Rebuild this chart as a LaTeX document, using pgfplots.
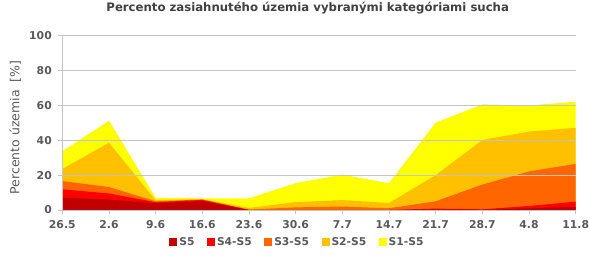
\documentclass[border=0pt]{standalone}
\usepackage{fontspec}
\setmainfont{DejaVu Sans}
\usepackage{pgfplots}
\pgfplotsset{compat=1.18}
\definecolor{cS5}{HTML}{C00000}
\definecolor{cS4}{HTML}{FF0000}
\definecolor{cS3}{HTML}{FF6600}
\definecolor{cS2}{HTML}{FFC000}
\definecolor{cS1}{HTML}{FFFF00}
\definecolor{txt}{HTML}{595959}
\definecolor{ttl}{HTML}{404040}
\definecolor{grd}{HTML}{C4C4C4}
\begin{document}
\begin{tikzpicture}
\path[use as bounding box] (-62.3pt,-48pt) rectangle (527.7pt,210pt);
\begin{axis}[
  at={(0pt,0pt)}, anchor=south west,
  scale only axis, width=513.4pt, height=174.3pt,
  xmin=0, xmax=11, ymin=0, ymax=100,
  xtick={0,...,11},
  xticklabels={26.5,2.6,9.6,16.6,23.6,30.6,7.7,14.7,21.7,28.7,4.8,11.8},
  ytick={0,20,40,60,80,100},
  ymajorgrids, grid style={grd, line width=0.7pt},
  axis on top,
  axis x line*=bottom, axis y line*=left,
  axis line style={-, grd, line width=0.8pt},
  tick align=outside, major tick length=4pt, tick style={grd, line width=0.7pt},
  ticklabel style={font=\bfseries\fontsize{10.8}{13}\selectfont, text=txt},
  xticklabel style={yshift=-3pt},
  yticklabel style={xshift=-3pt},
  /pgf/number format/assume math mode=true,
  every axis y label/.style={at={(axis description cs:-0.0915,0.473)}, rotate=90, anchor=center, font=\fontsize{12.5}{15}\selectfont, text=txt},
  ylabel={Percento územia\ \ [\%]},
  title={Percento zasiahnutého územia vybranými kategóriami sucha},
  title style={at={(0.478,1.124)}, anchor=center, font=\bfseries\fontsize{11.7}{14}\selectfont, text=ttl},
  legend columns=5, reverse legend,
  legend style={at={(0.458,-0.1836)}, anchor=center, draw=none, fill=none,
    font=\bfseries\fontsize{10.7}{13}\selectfont, text=txt,
    /tikz/every even column/.append style={column sep=10.5pt}},
  legend image code/.code={\fill[#1] (0pt,-4pt) rectangle (8pt,4pt);},
]
\addplot[fill=cS1, draw=none] coordinates {(0,33.6) (1,51.2) (2,7.0) (3,6.7) (4,6.7) (5,15.4) (6,20.3) (7,15.3) (8,50.1) (9,60.6) (10,60.0) (11,62.1)} \closedcycle;
\addplot[fill=cS2, draw=none] coordinates {(0,23.5) (1,38.6) (2,5.6) (3,6.2) (4,1.2) (5,4.5) (6,5.7) (7,4.0) (8,20.0) (9,40.2) (10,45.0) (11,47.2)} \closedcycle;
\addplot[fill=cS3, draw=none] coordinates {(0,16.6) (1,13.2) (2,5.0) (3,6.0) (4,0.3) (5,1.5) (6,2.0) (7,1.0) (8,5.0) (9,14.6) (10,22.1) (11,26.5)} \closedcycle;
\addplot[fill=cS4, draw=none] coordinates {(0,11.9) (1,9.5) (2,4.5) (3,5.8) (4,0) (5,0) (6,0) (7,0) (8,0.8) (9,0.4) (10,2.3) (11,4.8)} \closedcycle;
\addplot[fill=cS5, draw=none] coordinates {(0,7.1) (1,6.0) (2,3.9) (3,5.2) (4,0) (5,0) (6,0) (7,0) (8,0.3) (9,0.1) (10,1.0) (11,1.9)} \closedcycle;
\legend{S1-S5,S2-S5,S3-S5,S4-S5,S5}
\end{axis}
\end{tikzpicture}
\end{document}
